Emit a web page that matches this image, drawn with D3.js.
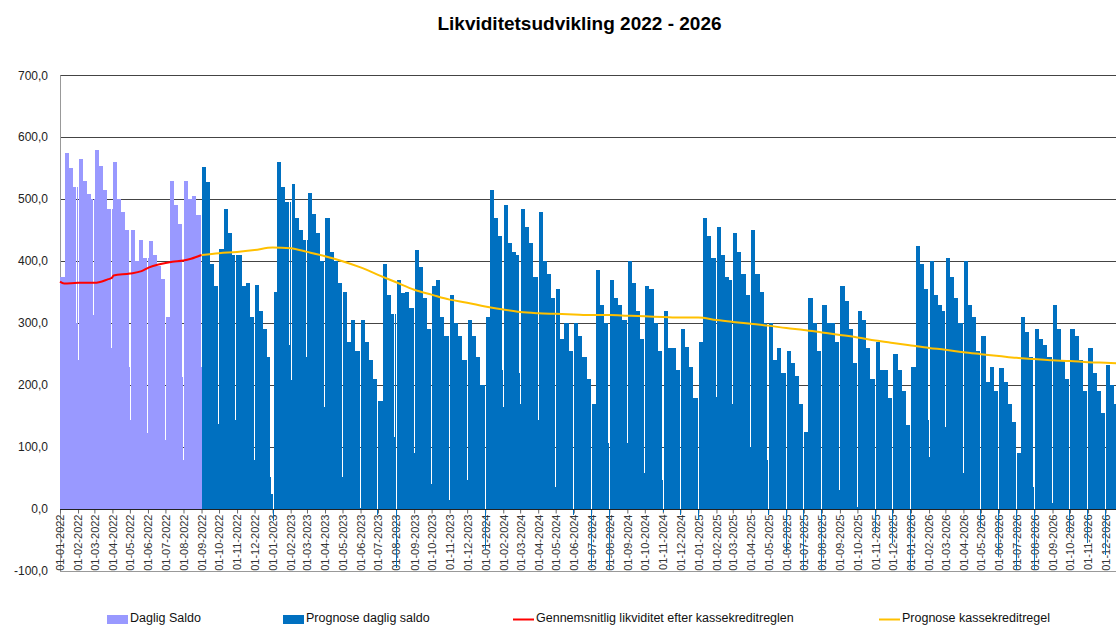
<!DOCTYPE html>
<html>
<head>
<meta charset="utf-8">
<script src="https://cdn.jsdelivr.net/npm/d3@7"></script>
<style>
    body { margin: 0; background: #fff; }
    svg { display: block; font-family: Arial, 'Liberation Sans', sans-serif; }
</style>
</head>
<body>
<svg id="chart" width="1116" height="626"></svg>
<script>
// four readings per month: days 1-8, 9-15, 16-22, 23-end
const dagligSaldo2022 = [ // Jan - Aug 2022
    [375, 575, 550, 520], [565, 530, 508, 500], [580, 553, 515, 485], [560, 500, 480, 450],
    [450, 400, 435, 405], [432, 410, 392, 372], [310, 530, 490, 460], [530, 500, 505, 475]
];
const prognose2022 = [ // Sep - Dec 2022
    [552, 528, 395, 360], [420, 485, 445, 410], [410, 360, 365, 310], [362, 320, 290, 245]
];
const prognose2023 = [
    [350, 560, 520, 495], [525, 470, 450, 434], [510, 476, 445, 400], [470, 415, 400, 365],
    [350, 270, 305, 255], [305, 270, 240, 210], [175, 395, 345, 315], [370, 348, 350, 325],
    [418, 390, 340, 290], [360, 370, 310, 280], [345, 300, 280, 240], [305, 280, 245, 200]
];
const prognose2024 = [
    [310, 515, 470, 440], [490, 430, 415, 410], [485, 455, 430, 375], [480, 400, 380, 340],
    [355, 275, 300, 255], [300, 280, 245, 210], [170, 385, 330, 300], [370, 340, 330, 305],
    [400, 365, 320, 275], [360, 355, 300, 255], [320, 260, 260, 225], [290, 262, 230, 180]
];
const prognose2025 = [
    [270, 470, 440, 405], [455, 410, 375, 370], [445, 415, 380, 345], [450, 380, 350, 300],
    [300, 240, 260, 220], [255, 235, 215, 170], [125, 340, 300, 255], [330, 300, 300, 270],
    [360, 335, 290, 235], [320, 305, 260, 210], [270, 225, 225, 180], [250, 225, 190, 135]
];
const prognose2026 = [
    [230, 425, 395, 355], [400, 345, 330, 320], [405, 375, 340, 300], [400, 330, 310, 255],
    [280, 205, 230, 190], [228, 205, 170, 140], [90, 310, 285, 245], [290, 275, 265, 245],
    [330, 290, 240, 210], [290, 280, 240, 190], [260, 220, 190, 155], [232, 200, 170, 150]
];

// single days that drop below the month's level
const dips = [
    ['2022-01-29', 300], ['2022-01-31', 240], ['2022-02-26', 313], ['2022-03-30', 260],
    ['2022-04-29', 230], ['2022-04-30', 143], ['2022-05-30', 122], ['2022-06-30', 111],
    ['2022-07-30', 213], ['2022-07-31', 79], ['2022-08-31', 230],
    ['2022-09-30', 138], ['2022-10-29', 143], ['2022-11-30', 79],
    ['2022-12-28', 52], ['2022-12-29', 25], ['2022-12-30', 25], ['2022-12-31', -20],
    ['2023-01-29', 265], ['2023-01-31', 208], ['2023-02-27', 246], ['2023-03-31', 165],
    ['2023-04-30', 52], ['2023-05-31', 2], ['2023-06-30', -10], ['2023-07-29', 116],
    ['2023-07-31', -95], ['2023-08-31', 90], ['2023-09-30', 41], ['2023-10-31', 15],
    ['2023-11-30', 47], ['2023-12-31', -66],
    ['2024-01-30', 224], ['2024-01-31', 165], ['2024-02-28', 219], ['2024-02-29', 170],
    ['2024-03-31', 143], ['2024-04-30', 36], ['2024-05-31', -10], ['2024-06-30', -95],
    ['2024-07-30', 106], ['2024-07-31', -98], ['2024-08-31', 106], ['2024-09-30', 58],
    ['2024-10-30', 47], ['2024-10-31', -5], ['2024-11-30', -10], ['2024-12-31', -18],
    ['2025-01-31', 181], ['2025-02-28', 170], ['2025-03-31', 100], ['2025-04-29', 79],
    ['2025-04-30', -10], ['2025-05-31', -69], ['2025-06-30', -98], ['2025-07-31', -98],
    ['2025-08-31', 30], ['2025-09-30', 4], ['2025-10-31', -39], ['2025-11-30', -55],
    ['2025-12-31', -98],
    ['2026-01-30', 143], ['2026-01-31', 84], ['2026-02-28', 133], ['2026-03-31', 58],
    ['2026-04-30', -30], ['2026-05-31', -77], ['2026-06-30', -98], ['2026-07-30', 36],
    ['2026-07-31', -98], ['2026-08-31', 10], ['2026-09-30', -39], ['2026-10-31', -55],
    ['2026-11-30', -74]
];

const gennemsnit = [
    ['2022-01-01', 367], ['2022-01-08', 364], ['2022-02-01', 365], ['2022-03-01', 365],
    ['2022-03-25', 371], ['2022-03-31', 373], ['2022-04-03', 377], ['2022-05-01', 380],
    ['2022-05-21', 384], ['2022-06-03', 390], ['2022-06-21', 395], ['2022-07-13', 399],
    ['2022-08-01', 401], ['2022-08-14', 404], ['2022-09-01', 410]
];

const kassekredit = [
    ['2022-09-01', 410], ['2022-10-01', 413], ['2022-11-01', 415], ['2022-12-01', 418],
    ['2023-01-01', 422], ['2023-02-01', 421], ['2023-03-01', 415], ['2023-04-01', 408],
    ['2023-05-01', 400], ['2023-06-01', 390], ['2023-07-01', 378], ['2023-08-01', 366],
    ['2023-09-01', 354], ['2023-10-01', 346], ['2023-11-01', 338], ['2023-12-01', 333],
    ['2024-01-01', 327], ['2024-02-01', 322], ['2024-03-01', 318], ['2024-04-01', 316],
    ['2024-05-01', 315], ['2024-06-01', 314], ['2024-07-01', 313], ['2024-08-01', 313],
    ['2024-09-01', 312], ['2024-10-01', 311], ['2024-11-01', 310], ['2024-12-01', 309],
    ['2025-01-01', 309], ['2025-02-01', 305], ['2025-03-01', 302], ['2025-04-01', 299],
    ['2025-05-01', 296], ['2025-06-01', 292], ['2025-07-01', 289], ['2025-08-01', 285],
    ['2025-09-01', 281], ['2025-10-01', 277], ['2025-11-01', 272], ['2025-12-01', 268],
    ['2026-01-01', 264], ['2026-02-01', 260], ['2026-03-01', 257], ['2026-04-01', 253],
    ['2026-05-01', 250], ['2026-06-01', 247], ['2026-07-01', 244], ['2026-08-01', 242],
    ['2026-09-01', 240], ['2026-10-01', 239], ['2026-11-01', 237], ['2026-12-01', 236],
    ['2026-12-31', 235]
];

const yTicks = [-100, 0, 100, 200, 300, 400, 500, 600, 700];
const legendLabels = ['Daglig Saldo', 'Prognose daglig saldo',
    'Gennemsnitlig likviditet efter kassekreditreglen', 'Prognose kassekreditregel'];
const title = 'Likviditetsudvikling 2022 - 2026';

const colors = { actual: '#9999ff', prognose: '#0070c0', red: '#ff0000', yellow: '#ffc000' };

const svg = d3.select('#chart');
const parse = d3.timeParse('%Y-%m-%d');
const keyFmt = d3.timeFormat('%Y-%m-%d');
const start = new Date(2022, 0, 1);
const end = new Date(2027, 0, 1);

const x = d3.scaleTime().domain([start, end]).range([60, 1123.6]);
const y = d3.scaleLinear().domain([-100, 700]).range([571, 75.3]);

const locale = d3.formatLocale({ decimal: ',', thousands: '.', grouping: [3], currency: ['', ''], minus: '-' });
const yFmt = locale.format('.1f');

// title
svg.append('text')
    .attr('x', 579.5).attr('y', 29.5)
    .attr('text-anchor', 'middle')
    .style('font-size', '19px').style('font-weight', 'bold')
    .text(title);

// gridlines
svg.append('g')
    .selectAll('line')
    .data(yTicks)
    .join('line')
    .attr('x1', 60).attr('x2', 1124)
    .attr('y1', d => Math.round(y(d)) + 0.5).attr('y2', d => Math.round(y(d)) + 0.5)
    .attr('stroke', d => d === -100 ? '#999' : '#444');

svg.append('line')
    .attr('x1', 60.5).attr('x2', 60.5).attr('y1', y(700)).attr('y2', y(-100))
    .attr('stroke', '#999');

svg.append('g')
    .selectAll('text')
    .data(yTicks)
    .join('text')
    .attr('x', 48).attr('y', d => y(d))
    .attr('dy', '0.35em').attr('text-anchor', 'end')
    .style('font-size', '12px').attr('fill', '#222')
    .text(d => yFmt(d));

// x axis labels
const months = d3.timeMonth.range(start, end);
const xAxis = d3.axisBottom(x)
    .tickValues(months)
    .tickFormat(d3.timeFormat('%d-%m-%Y'))
    .tickSize(4);
const gx = svg.append('g')
    .attr('transform', `translate(0, ${Math.round(y(0)) + 0.5})`)
    .call(xAxis);
gx.select('.domain').remove();
gx.selectAll('line').attr('stroke', '#666');
gx.selectAll('text')
    .attr('transform', 'rotate(-90)')
    .attr('x', -5).attr('y', 0).attr('dy', '0.35em')
    .style('text-anchor', 'end')
    .style('font-size', '11px')
    .style('font-family', 'Arial, "Liberation Sans", sans-serif')
    .attr('fill', '#333');

// daily values from the monthly readings
const prognose = prognose2022.concat(prognose2023, prognose2024, prognose2025, prognose2026);
const allMonths = dagligSaldo2022.map(v => ({ actual: true, v }))
    .concat(prognose.map(v => ({ actual: false, v })));
const dipMap = new Map(dips);

const daily = d3.timeDay.range(start, end).map(d => {
    const m = (d.getFullYear() - 2022) * 12 + d.getMonth();
    const dom = d.getDate();
    const seg = dom <= 8 ? 0 : dom <= 15 ? 1 : dom <= 22 ? 2 : 3;
    const key = keyFmt(d);
    const isDip = dipMap.has(key);
    return {
        date: d,
        actual: allMonths[m].actual,
        dip: isDip,
        value: isDip ? dipMap.get(key) : allMonths[m].v[seg]
    };
});

const runs = [];
daily.forEach(d => {
    const last = runs[runs.length - 1];
    if (last && !last.dip && !d.dip && last.value === d.value && last.actual === d.actual) {
        last.end = d.date;
    } else {
        runs.push({ start: d.date, end: d.date, value: d.value, actual: d.actual, dip: d.dip });
    }
});

let cursor = Math.round(x(start));
runs.forEach(r => {
    const x0 = Math.max(Math.round(x(r.start)), cursor);
    const x1 = Math.max(Math.round(x(d3.timeDay.offset(r.end, 1))), x0 + 1);
    r.x0 = x0;
    r.x1 = x1;
    cursor = x1;
});

svg.append('g')
    .attr('shape-rendering', 'crispEdges')
    .selectAll('rect')
    .data(runs)
    .join('rect')
    .attr('x', d => d.x0)
    .attr('width', d => d.x1 - d.x0)
    .attr('y', d => y(Math.max(0, d.value)))
    .attr('height', d => Math.abs(y(d.value) - y(0)))
    .attr('fill', d => d.actual ? colors.actual : colors.prognose);

// zero line
svg.append('line')
    .attr('x1', 60).attr('x2', 1124)
    .attr('y1', Math.round(y(0)) + 0.5).attr('y2', Math.round(y(0)) + 0.5)
    .attr('stroke', '#222');

// lines
const line = d3.line()
    .x(d => x(parse(d[0])))
    .y(d => y(d[1]))
    .curve(d3.curveMonotoneX);

svg.append('path')
    .datum(gennemsnit)
    .attr('fill', 'none')
    .attr('stroke', colors.red)
    .attr('stroke-width', 2)
    .attr('d', line);

svg.append('path')
    .datum(kassekredit)
    .attr('fill', 'none')
    .attr('stroke', colors.yellow)
    .attr('stroke-width', 2)
    .attr('d', line);

// legend
const legend = svg.append('g').style('font-size', '12.5px');
const legendItems = [
    { label: legendLabels[0], type: 'rect', color: colors.actual, x: 107 },
    { label: legendLabels[1], type: 'rect', color: colors.prognose, x: 283 },
    { label: legendLabels[2], type: 'line', color: colors.red, x: 513 },
    { label: legendLabels[3], type: 'line', color: colors.yellow, x: 879 }
];
legendItems.forEach(item => {
    if (item.type === 'rect') {
        legend.append('rect')
            .attr('x', item.x).attr('y', 615).attr('width', 21).attr('height', 9)
            .attr('fill', item.color);
    } else {
        legend.append('line')
            .attr('x1', item.x).attr('x2', item.x + 21)
            .attr('y1', 619.5).attr('y2', 619.5)
            .attr('stroke', item.color).attr('stroke-width', 2);
    }
    legend.append('text')
        .attr('x', item.x + 23).attr('y', 622)
        .attr('fill', '#111')
        .text(item.label);
});
</script>
</body>
</html>
